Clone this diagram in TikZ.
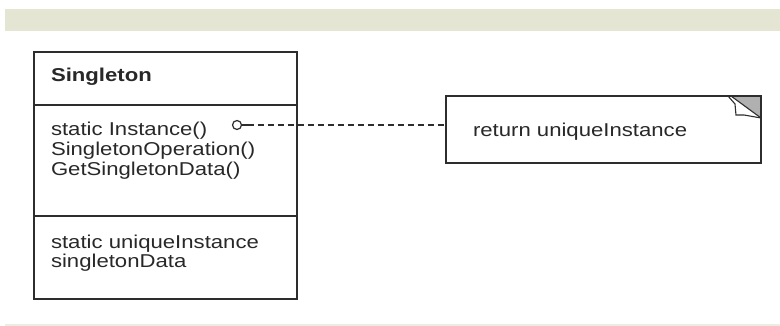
\documentclass[tikz,border=0pt]{standalone}
\usepackage{fontspec}
\setmainfont[FakeStretch=1.19]{Liberation Sans}
\definecolor{bandc}{RGB}{229,229,212}
\definecolor{bandlc}{RGB}{236,236,224}
\definecolor{linec}{RGB}{45,45,45}
\definecolor{textc}{RGB}{40,40,40}
\definecolor{foldc}{RGB}{176,176,176}
\begin{document}
\begin{tikzpicture}[x=1pt,y=-1pt,
  every node/.style={inner sep=0pt, outer sep=0pt},
  txt/.style={anchor=base west, font=\fontsize{18.6}{20}\selectfont, text=textc},
  boxline/.style={draw=linec, line width=1.5pt},
  sepline/.style={draw=linec, line width=1.4pt},
  conn/.style={draw=linec, line width=1.2pt, dash pattern=on 6pt off 4pt}]
\useasboundingbox (0,0) rectangle (780,326);
\fill[bandc] (5,9) rectangle (780,31);
\fill[bandlc] (5,323.5) rectangle (780,326);
% class box
\node[boxline, anchor=north west, minimum width=263pt, minimum height=247pt] (cls) at (34,52) {};
\draw[sepline] (cls.west |- 0,105) -- (cls.east |- 0,105);
\draw[sepline] (cls.west |- 0,216) -- (cls.east |- 0,216);
\node[txt, font=\fontsize{18.6}{20}\selectfont\bfseries] (name) at (51,82) {Singleton};
\node[txt] (op1) at (51,136) {static Instance()};
\node[txt] (op2) at (51,156) {SingletonOperation()};
\node[txt] (op3) at (51,176) {GetSingletonData()};
\node[txt] (at1) at (51,248) {static uniqueInstance};
\node[txt] (at2) at (51,268) {singletonData};
% note
\node[boxline, line width=1.4pt, anchor=north west, minimum width=315pt, minimum height=67pt] (note) at (446,96) {};
\node[txt] (notetext) at (473,137) {return uniqueInstance};
\fill[foldc] ([xshift=-30pt]note.north east) -- (note.north east) -- ([yshift=-22pt]note.north east) -- cycle;
\draw[linec, line width=1.1pt, fill=white] ([xshift=-33pt]note.north east) -- ([xshift=-26pt,yshift=-8pt]note.north east) -- ([xshift=-25pt,yshift=-19pt]note.north east) -- ([xshift=-17pt,yshift=-19pt]note.north east) -- ([yshift=-22pt]note.north east);
\draw[linec, line width=1.1pt] ([xshift=-30pt]note.north east) -- ([yshift=-22pt]note.north east);
\draw[boxline, line width=1.4pt] (note.north west) rectangle (note.south east);
% connector
\node[circle, draw=linec, line width=1.2pt, fill=white, minimum size=9pt] (circ) at (237,125) {};
\draw[linec, line width=1.2pt] (circ.east) -- ++(6,0) coordinate (dstart);
\draw[conn] (dstart) -- (note.west |- circ);
\end{tikzpicture}
\end{document}
